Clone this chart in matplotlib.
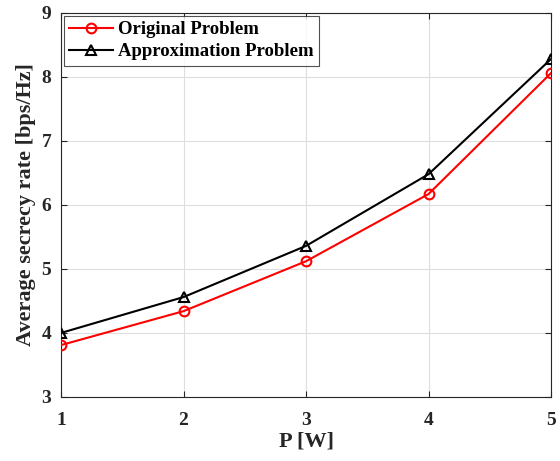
import matplotlib
matplotlib.use("Agg")
import matplotlib.pyplot as plt

P = [1, 2, 3, 4, 5]
original = [3.81, 4.34, 5.12, 6.17, 8.06]
approx = [4.00, 4.56, 5.36, 6.48, 8.28]
xticks = [1, 2, 3, 4, 5]
yticks = [3, 4, 5, 6, 7, 8, 9]

plt.rcParams['font.family'] = ['Liberation Serif', 'DejaVu Serif']
plt.rcParams['font.weight'] = 'bold'

fig = plt.figure(figsize=(5.6, 4.61), dpi=100)
ax = fig.add_axes([0.109, 0.139, 0.875, 0.833])

ax.plot(P, original, color='#ff0000', lw=1.5, marker='o', ms=7,
        mfc='none', mec='#ff0000', mew=1.5, label='Original Problem', zorder=3)
ax.plot(P, approx, color='black', lw=1.5, marker='^', ms=7.5,
        mfc='none', mec='black', mew=1.5, label='Approximation Problem', zorder=3)

ax.set_xlim(1, 5)
ax.set_ylim(3, 9)
ax.set_xticks(xticks)
ax.set_yticks(yticks)
ax.tick_params(direction='in', labelsize=14, length=4, width=0.8, colors='#262626',
               top=True, right=True)
ax.tick_params(axis='x', pad=11)
ax.tick_params(axis='y', pad=7)
for lab in ax.get_xticklabels() + ax.get_yticklabels():
    lab.set_fontweight('bold')
    lab.set_color('#262626')
ax.grid(True, color='#dedede', lw=0.8)
ax.set_axisbelow(True)
for s in ax.spines.values():
    s.set_color('#262626')
    s.set_linewidth(0.8)

ax.set_xlabel('P [W]', fontsize=16, fontweight='bold', color='#262626', labelpad=2)
ax.set_ylabel('Average secrecy rate [bps/Hz]', fontsize=16, fontweight='bold',
              color='#262626', labelpad=4)

leg = ax.legend(loc='upper left', fontsize=13.5, frameon=True, fancybox=False,
                edgecolor='#262626', borderaxespad=0.15, handlelength=2.3,
                borderpad=0.3, labelspacing=0.25, handletextpad=0.3)
leg.get_frame().set_linewidth(0.8)
for t in leg.get_texts():
    t.set_fontweight('bold')

fig.savefig('out.png', dpi=100)
